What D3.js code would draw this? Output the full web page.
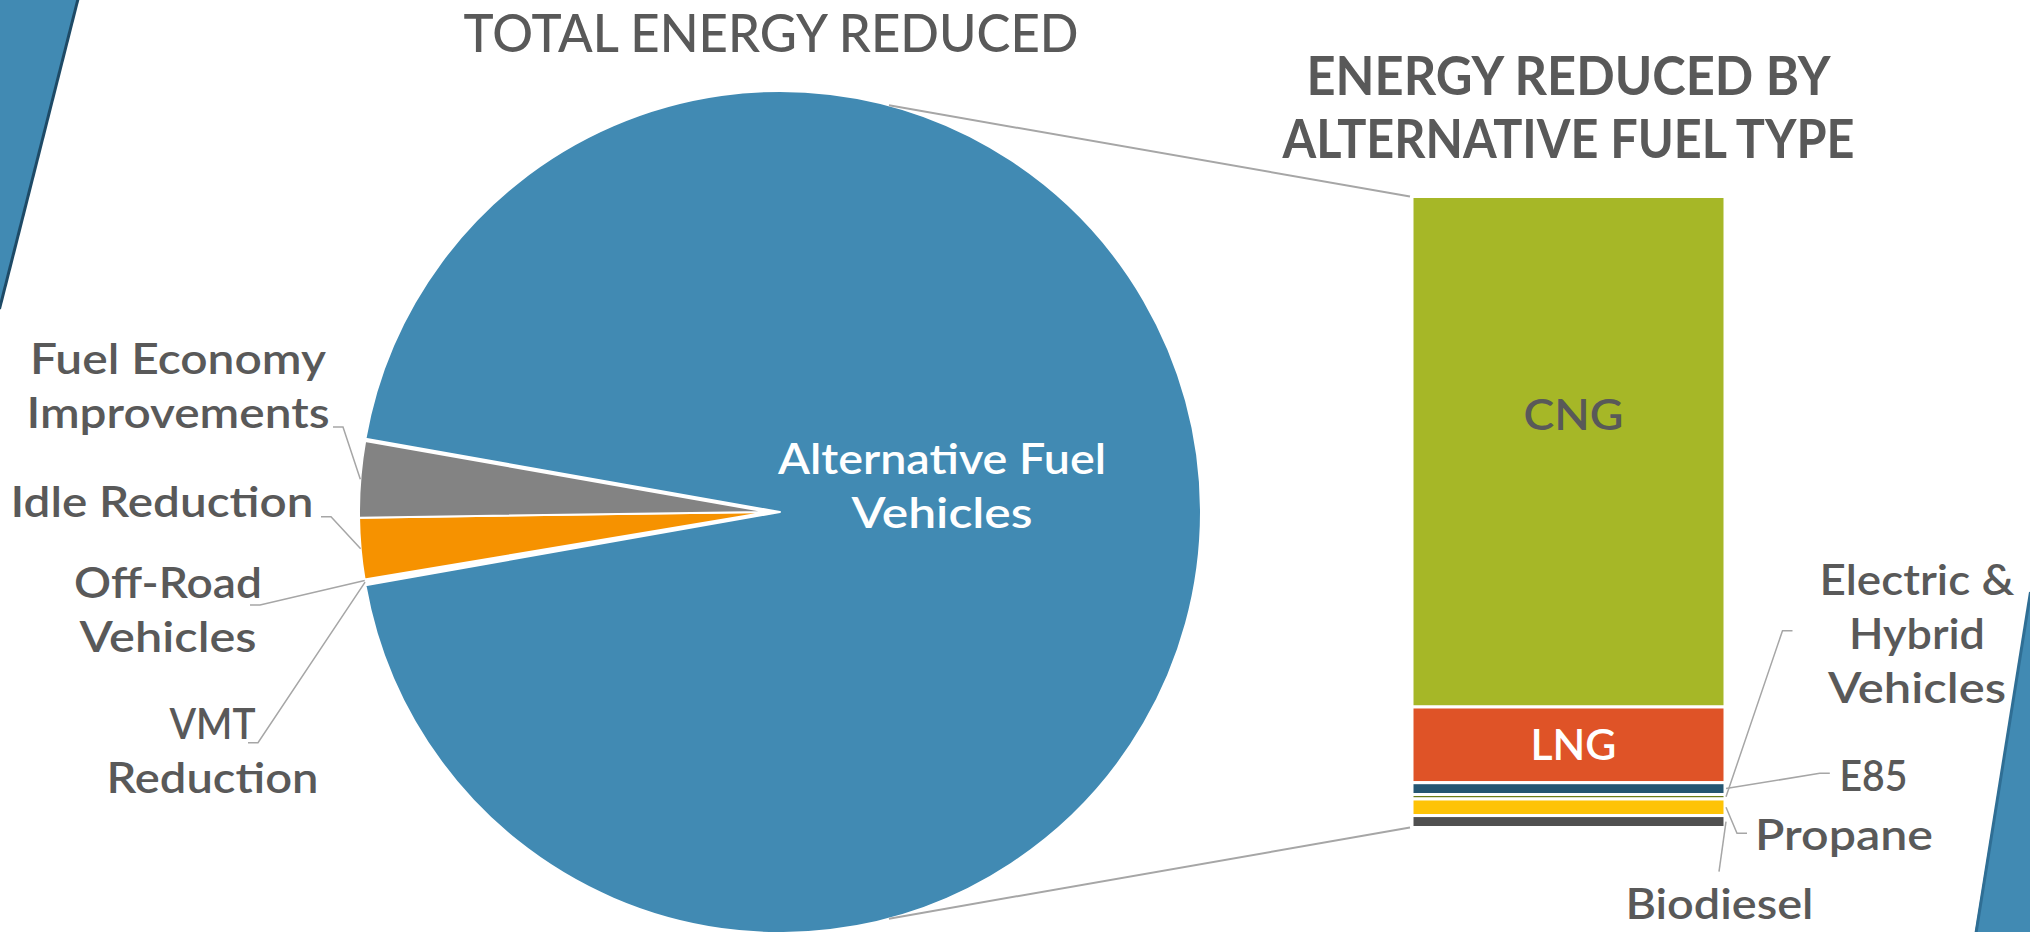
<!DOCTYPE html>
<html>
<head>
<meta charset="utf-8">
<script src="https://cdn.jsdelivr.net/npm/d3@7"></script>
<style>
  html, body { margin: 0; padding: 0; background: #fff; }
  svg { display: block; }
  text { font-family: Lato, "Open Sans", sans-serif; fill: #595959; }
</style>
</head>
<body>
<svg id="chart" width="2030" height="932"></svg>
<script>
// Pie: total energy reduced (share, %)
var pieCategories = ["Alternative Fuel Vehicles", "VMT Reduction", "Off-Road Vehicles", "Idle Reduction", "Fuel Economy Improvements"];
var pieValues = [94.45, 0.07, 0.07, 2.42, 3.0];
var pieColors = ["#418AB3", "#DF5327", "#FEC306", "#F69200", "#838383"];

// Bar: alternative fuel vehicles split by fuel type (share, %)
var barCategories = ["CNG", "LNG", "E85", "Electric & Hybrid Vehicles", "Propane", "Biodiesel"];
var barValues = [80.9, 12.0, 1.87, 0.71, 2.63, 1.89];
var barColors = ["#A6B727", "#DF5327", "#255672", "#6B7D17", "#FEC306", "#505050"];

var titles = ["TOTAL ENERGY REDUCED", "ENERGY REDUCED BY", "ALTERNATIVE FUEL TYPE"];

// layout
var pieCx = 768, pieCy = 512, pieR = 409,
  otherExplode = 12, otherR = 421,
  barLeft = 1412, barRight = 1725, barTop = 196.5, barBottom = 827.5,
  labelSize = 42, labelWeight = 600, lineGap = 54;

// label placement: x = centre of text block, y = first baseline, w = widths per line
var pieLabelPos = {
  "Fuel Economy Improvements": {lines: ["Fuel Economy", "Improvements"], x: 178, y: 374, w: [296, 303], lead: [333, 427]},
  "Idle Reduction": {lines: ["Idle Reduction"], x: 162, y: 516.7, w: [303], lead: [321, 516.7]},
  "Off-Road Vehicles": {lines: ["Off-Road", "Vehicles"], x: 168, y: 597.7, w: [188, 177], lead: [250, 605]},
  "VMT Reduction": {lines: ["VMT", "Reduction"], x: 212.5, y: 739.3, w: [86, 212], lead: [248, 742.7]}
};
var barLabelPos = {
  "Electric & Hybrid Vehicles": {lines: ["Electric &", "Hybrid", "Vehicles"], x: 1917, y: 595, w: [195, 136, 178], lead: [1792.5, 630.7], elbow: -10},
  "E85": {lines: ["E85"], x: 1873.4, y: 790.7, w: [68], lead: [1829.8, 773.3], elbow: -10},
  "Propane": {lines: ["Propane"], x: 1844, y: 850, w: [178], lead: [1747, 833.3], elbow: -10},
  "Biodiesel": {lines: ["Biodiesel"], x: 1719.4, y: 919, w: [188], lead: [1719, 871.7], elbow: 0}
};
var barInside = {
  "CNG": {dy: -22, w: 100, fill: "#595959"},
  "LNG": {dy: 15.5, w: 86, fill: "#ffffff"}
};

var svg = d3.select("#chart");

// slide decoration
svg.append("path")
  .attr("d", "M0,0 L78,0 L0,308 Z")
  .attr("fill", "#418AB3");
svg.append("line")
  .attr("x1", 78).attr("y1", -1).attr("x2", -0.5).attr("y2", 309)
  .attr("stroke", "#1E4A66").attr("stroke-width", 3);
svg.append("path")
  .attr("d", "M2030,594 L2030,932 L1975,932 Z")
  .attr("fill", "#418AB3");
svg.append("line")
  .attr("x1", 2030.5).attr("y1", 592).attr("x2", 1976).attr("y2", 933)
  .attr("stroke", "#2F6E94").attr("stroke-width", 3);

// pie
var share = pieValues[0] / d3.sum(pieValues),
  start = Math.PI / 2 - share * Math.PI;

var pie = d3.pie()
  .sort(null)
  .value(function(d) { return d; })
  .startAngle(start)
  .endAngle(start + 2 * Math.PI);

var arcs = pie(pieValues);
var arc = d3.arc().innerRadius(0);

function midAngle(a) { return (a.startAngle + a.endAngle) / 2; }

var pieG = svg.append("g").attr("transform", "translate(" + pieCx + "," + pieCy + ")");

pieG.selectAll("path")
  .data(arcs)
  .enter().append("path")
    .attr("transform", function(d, i) {
      if (i !== 0) return null;
      var m = midAngle(d);
      return "translate(" + (Math.sin(m) * otherExplode) + "," + (-Math.cos(m) * otherExplode) + ")";
    })
    .attr("d", function(d, i) { return arc.outerRadius(i === 0 ? otherR : pieR)(d); })
    .attr("fill", function(d, i) { return pieColors[i]; })
    .attr("stroke", "#fff")
    .attr("stroke-width", 2)
    .attr("stroke-linejoin", "round");

// bar of the "other" slice
var y = d3.scaleLinear()
  .domain([0, d3.sum(barValues)])
  .range([barTop, barBottom]);

var stackStart = [];
barValues.reduce(function(acc, v, i) { stackStart[i] = acc; return acc + v; }, 0);

svg.append("g").selectAll("rect")
  .data(barValues)
  .enter().append("rect")
    .attr("x", barLeft)
    .attr("width", barRight - barLeft)
    .attr("y", function(d, i) { return y(stackStart[i]); })
    .attr("height", function(d, i) { return y(stackStart[i] + d) - y(stackStart[i]); })
    .attr("fill", function(d, i) { return barColors[i]; })
    .attr("stroke", "#fff")
    .attr("stroke-width", 3);

// series lines between the pie and the bar
var oc = [pieCx + otherExplode, pieCy], tilt = 15 * Math.PI / 180;
svg.append("g").selectAll("line")
  .data([[-1, barTop], [1, barBottom]])
  .enter().append("line")
    .attr("x1", function(d) { return oc[0] + otherR * Math.sin(tilt); })
    .attr("y1", function(d) { return oc[1] + d[0] * otherR * Math.cos(tilt); })
    .attr("x2", barLeft - 2)
    .attr("y2", function(d) { return d[1]; })
    .attr("stroke", "#A6A6A6")
    .attr("stroke-width", 2);

function drawLines(g, pos, size) {
  pos.lines.forEach(function(t, k) {
    g.append("text")
      .attr("x", pos.x)
      .attr("y", pos.y + k * lineGap)
      .attr("text-anchor", "middle")
      .attr("font-size", size)
      .attr("font-weight", labelWeight)
      .attr("textLength", pos.w[k])
      .attr("lengthAdjust", "spacingAndGlyphs")
      .text(t);
  });
}

// pie labels with leader lines
var leaderG = svg.append("g")
  .attr("fill", "none")
  .attr("stroke", "#A6A6A6")
  .attr("stroke-width", 1.5);
var labelG = svg.append("g");

arcs.forEach(function(a, i) {
  var pos = pieLabelPos[pieCategories[i]];
  if (!pos) return;
  var m = midAngle(a),
    end = [pieCx + Math.sin(m) * pieR, pieCy - Math.cos(m) * pieR];
  leaderG.append("path")
    .attr("d", d3.line()([pos.lead, [pos.lead[0] + 10, pos.lead[1]], end]));
  drawLines(labelG, pos, labelSize);
});

// label inside the big slice
var inner = labelG.append("g");
drawLines(inner, {lines: ["Alternative Fuel", "Vehicles"], x: 942, y: 473.8, w: [328, 181]}, 43);
inner.selectAll("text").style("fill", "#fff");

// bar labels
barValues.forEach(function(v, i) {
  var name = barCategories[i],
    mid = y(stackStart[i] + v / 2);
  if (barInside[name]) {
    var b = barInside[name];
    labelG.append("text")
      .attr("x", (barLeft + barRight) / 2 + 5)
      .attr("y", mid + b.dy)
      .attr("text-anchor", "middle")
      .attr("font-size", labelSize)
      .attr("font-weight", labelWeight)
      .attr("textLength", b.w)
      .attr("lengthAdjust", "spacingAndGlyphs")
      .style("fill", b.fill)
      .text(name);
    return;
  }
  var pos = barLabelPos[name];
  leaderG.append("path")
    .attr("d", d3.line()([pos.lead, [pos.lead[0] + pos.elbow, pos.lead[1]], [barRight + 1, mid]]));
  drawLines(labelG, pos, labelSize);
});

// titles
svg.append("text")
  .attr("x", 771).attr("y", 51.7)
  .attr("text-anchor", "middle")
  .attr("font-size", 51.4)
  .attr("font-weight", 500)
  .attr("textLength", 615)
  .attr("lengthAdjust", "spacingAndGlyphs")
  .text(titles[0]);

[titles[1], titles[2]].forEach(function(t, k) {
  svg.append("text")
    .attr("x", (barLeft + barRight) / 2)
    .attr("y", 95.1 + k * 62.4)
    .attr("text-anchor", "middle")
    .attr("font-size", 53.7)
    .attr("font-weight", 700)
    .attr("textLength", k === 0 ? 524 : 572)
    .attr("lengthAdjust", "spacingAndGlyphs")
    .text(t);
});
</script>
</body>
</html>
